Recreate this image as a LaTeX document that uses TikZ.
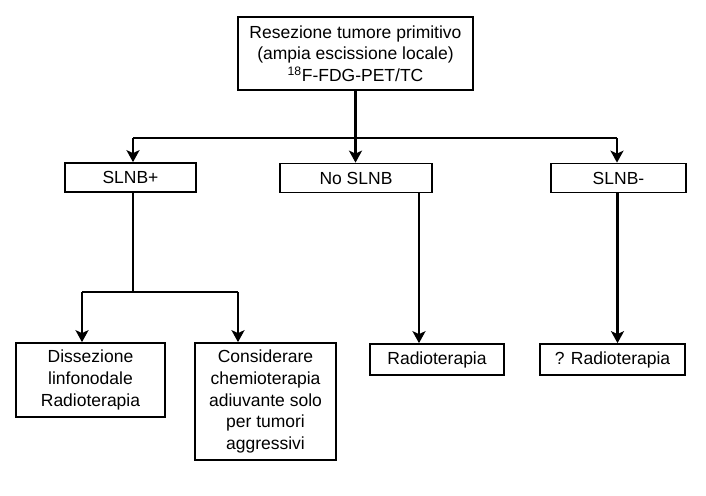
\documentclass[tikz,border=0pt]{standalone}
\usepackage{fontspec}
\setmainfont{Liberation Sans}
\usetikzlibrary{arrows.meta}
\begin{document}
\begin{tikzpicture}[x=1pt,y=-1pt,
  box/.style={draw, line width=1.7pt, rectangle, inner sep=0pt, align=center,
    font=\fontsize{17.5}{21.7}\selectfont},
  conn/.style={line width=2.8pt},
  arr/.style={conn, -{Stealth[length=12pt,width=13pt,inset=3pt]}}]
\useasboundingbox (0,0) rectangle (706,495);
\node[box, minimum width=235pt, minimum height=73pt] (top) at (355.5,53.5)
  {Resezione tumore primitivo\\(ampia escissione locale)\\\textsuperscript{18}F-FDG-PET/TC};
\node[box, minimum width=131pt, minimum height=29pt] (sp) at (130.5,177.5) {SLNB+};
\node[box, minimum width=152pt, minimum height=29pt] (no) at (356,178) {No SLNB};
\node[box, minimum width=135pt, minimum height=29pt] (sm) at (618.5,178) {SLNB-};
\node[box, minimum width=149pt, minimum height=74pt] (dis) at (90.5,380)
  {Dissezione\\linfonodale\\Radioterapia};
\node[box, minimum width=141pt, minimum height=117pt] (con) at (265.5,401.5)
  {Considerare\\chemioterapia\\adiuvante solo\\per tumori\\aggressivi};
\node[box, minimum width=134pt, minimum height=31pt] (r1) at (437,359.5) {Radioterapia};
\node[box, minimum width=145pt, minimum height=31pt] (r2) at (612.5,359.5) {? Radioterapia};
% top branch
\coordinate (j0) at (355.5,138);
\coordinate (jl) at (133,138);
\coordinate (jr) at (617,138);
\draw[conn] (top.south) -- (j0);
\draw[conn] (jl) -- (jr);
\draw[arr] (j0) -- (j0 |- no.north);
\draw[arr] (jl) -- (jl |- sp.north);
\draw[arr] (jr) -- (jr |- sm.north);
% SLNB+ branch
\coordinate (s1) at (133,192);
\coordinate (j1) at (133,292);
\coordinate (j1l) at (82,292);
\coordinate (j1r) at (238,292);
\draw[conn] (s1 |- sp.south) -- (j1);
\draw[conn] (j1l) -- (j1r);
\draw[arr] (j1l) -- (j1l |- dis.north);
\draw[arr] (j1r) -- (j1r |- con.north);
% other branches
\coordinate (n1) at (419,192);
\draw[arr] (n1 |- no.south) -- (n1 |- r1.north);
\coordinate (m1) at (617.5,192);
\draw[arr] (m1 |- sm.south) -- (m1 |- r2.north);
\end{tikzpicture}
\end{document}
